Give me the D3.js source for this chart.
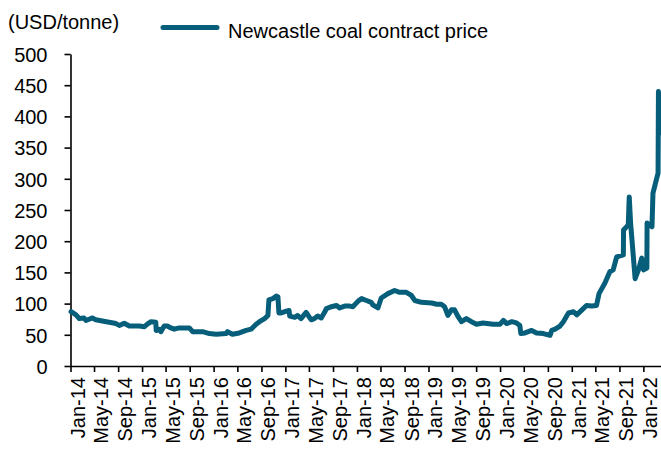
<!DOCTYPE html>
<html><head><meta charset="utf-8">
<script src="https://cdn.jsdelivr.net/npm/d3@7"></script>
<style>
html,body{margin:0;padding:0;background:#fff;}
text{font-family:"Liberation Sans",Arial,sans-serif;fill:#000;}
</style></head>
<body><svg id="c" width="661" height="450"></svg>
<script>
const unitLabel = "(USD/tonne)";
const seriesName = "Newcastle coal contract price";
const yTicks = [0,50,100,150,200,250,300,350,400,450,500];
const dates = [
"2014-01-04","2014-01-29","2014-02-15","2014-03-11","2014-03-21","2014-04-06","2014-04-23","2014-05-10","2014-06-12","2014-07-17",
"2014-08-21","2014-09-07","2014-10-02","2014-10-28","2014-12-18","2015-01-13","2015-01-28","2015-02-16","2015-03-12","2015-03-14",
"2015-03-29","2015-04-07","2015-04-24","2015-05-10","2015-05-28","2015-06-14","2015-07-09","2015-08-30","2015-09-16","2015-11-06",
"2015-12-10","2016-01-14","2016-03-04","2016-03-12","2016-04-06","2016-05-11","2016-06-15","2016-07-10","2016-08-05","2016-08-22",
"2016-09-17","2016-10-04","2016-10-09","2016-10-29","2016-11-16","2016-11-24","2016-11-29","2016-12-11","2017-01-06","2017-01-20",
"2017-01-23","2017-02-18","2017-03-05","2017-03-22","2017-04-17","2017-05-04","2017-05-13","2017-05-29","2017-06-15","2017-07-03",
"2017-07-20","2017-07-29","2017-08-24","2017-09-19","2017-10-05","2017-10-31","2017-11-26","2017-12-11","2018-01-07","2018-01-25",
"2018-02-19","2018-03-15","2018-03-23","2018-04-18","2018-05-05","2018-06-08","2018-07-12","2018-08-07","2018-09-10","2018-10-06",
"2018-10-23","2018-11-26","2019-01-17","2019-02-12","2019-03-07","2019-03-24","2019-04-10","2019-04-28","2019-05-14","2019-06-01",
"2019-06-18","2019-07-13","2019-08-08","2019-09-03","2019-10-06","2019-11-27","2020-01-01","2020-01-18","2020-02-04","2020-03-01",
"2020-03-25","2020-04-11","2020-04-16","2020-05-07","2020-06-10","2020-07-05","2020-08-09","2020-09-12","2020-09-21","2020-10-08",
"2020-11-02","2020-11-19","2020-12-15","2021-01-10","2021-01-27","2021-02-22","2021-03-17","2021-04-12","2021-05-07","2021-05-20",
"2021-06-19","2021-07-14","2021-07-31","2021-08-18","2021-09-21","2021-09-22","2021-10-16","2021-10-21","2021-10-28","2021-11-20",
"2021-12-07","2021-12-24","2022-01-02","2022-01-19","2022-01-20","2022-02-14","2022-02-19","2022-03-17","2022-03-19","2022-03-23"
];
const prices = [
87,82,76,77,73,75,77,74,72,70,
68,65,68.5,64,64,63,67,71,70,57,
59,55,64,64,61,59,61,61,55,55,
52,51,52,55,51,53,57,59,67,71,
76,81,106,108,112,111,85,85,88,89,
80,78,81,76,86,78,74,76,80,77,
86,92,95,97,93,96,96,95,104,108,
105,102,98,93,109,116,121,118,118,113,
105,102,101,99,99,95,81,90,90,79,
71,76,71,67,69,67,67,73,68,71,
69,65,52,53,57,53,52,49,57,59,
64,71,85,87,82,90,97,96,97,116,
133,151,154,175,178,218,226,271,229,140,
154,173,154,157,229,223,277,309,440,373
];

const color = "#065e7a";
const svg = d3.select("#c");
const parse = d3.utcParse("%Y-%m-%d");
const data = dates.map((d,i)=>({date:parse(d), value:prices[i]}));

const x = d3.scaleUtc().domain([parse("2014-01-01"), parse("2022-04-01")]).range([70.5, 661]);
const y = d3.scaleLinear().domain([0,500]).range([366, 54]);

// y axis
const yAxis = svg.append("g").attr("transform","translate(70.5,0)")
  .call(d3.axisLeft(y).tickValues(yTicks).tickSize(6).tickSizeOuter(0).tickPadding(17));
yAxis.selectAll("text").style("font-size","20px").attr("dy","0.36em");
yAxis.selectAll("line,path").attr("stroke","#000").attr("stroke-width",1.6);

// x axis
const xAxis = svg.append("g").attr("transform","translate(0,366)")
  .call(d3.axisBottom(x).ticks(d3.utcMonth.every(4)).tickFormat(d3.utcFormat("%b-%y")).tickSize(6).tickSizeOuter(0));
xAxis.selectAll("text").style("font-size","20px")
  .attr("transform","rotate(-90)").attr("text-anchor","end")
  .attr("x",-11).attr("y",13.5).attr("dy","0");
xAxis.selectAll("line,path").attr("stroke","#000").attr("stroke-width",1.6);

// line
const line = d3.line().x(d=>x(d.date)).y(d=>y(d.value));
svg.append("path").datum(data).attr("d",line)
  .attr("fill","none").attr("stroke",color).attr("stroke-width",5)
  .attr("stroke-linejoin","round").attr("stroke-linecap","round");

// unit label
svg.append("text").attr("x",8).attr("y",29).style("font-size","20px").text(unitLabel);

// legend
svg.append("line").attr("x1",163).attr("x2",217).attr("y1",27.5).attr("y2",27.5)
  .attr("stroke",color).attr("stroke-width",5).attr("stroke-linecap","round");
svg.append("text").attr("x",228).attr("y",37.5).style("font-size","20px").text(seriesName);
</script></body></html>
